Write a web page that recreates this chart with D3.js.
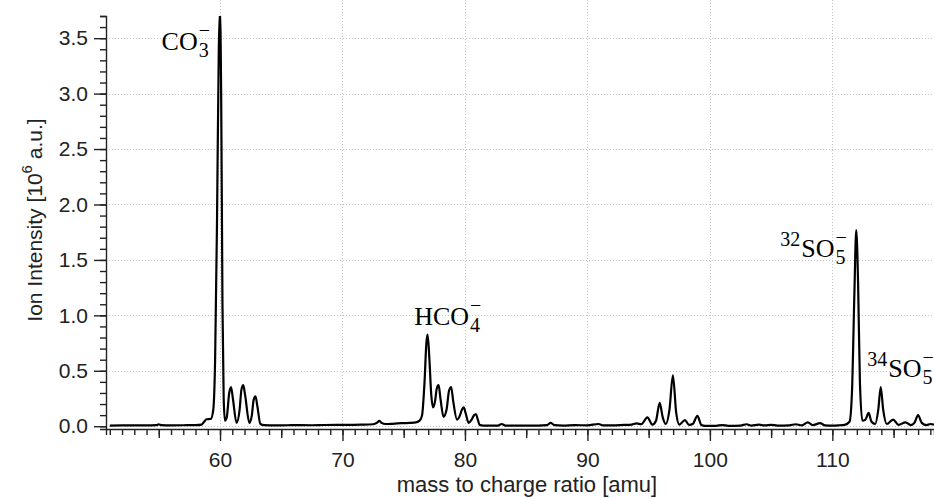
<!DOCTYPE html>
<html>
<head>
<meta charset="utf-8">
<script src="https://cdn.jsdelivr.net/npm/d3@7"></script>
<style>
body { margin: 0; background: #fff; }
svg { display: block; }
.tick text { font-family: "Liberation Sans", Arial, sans-serif; font-size: 21px; fill: #222; }
</style>
</head>
<body>
<script>
var W = 934, H = 498;

// spectrum: m/z [amu] and ion intensity [10^6 a.u.]
var massValues = [
  51.0, 52.0, 53.0, 54.0, 54.8, 55.0, 55.2, 56.0, 57.0, 58.0, 58.5, 58.7, 58.9, 59.25, 59.45,
  59.6, 59.75, 59.9, 60.0, 60.1, 60.2, 60.3, 60.4, 60.55, 60.75, 60.9, 61.05, 61.35, 61.6, 61.75,
  61.9, 62.05, 62.4, 62.6, 62.75, 62.9, 63.05, 63.3, 63.6, 64.5, 65.5, 66.5, 67.5, 68.5, 69.5,
  70.5, 71.5, 72.5, 72.8, 73.0, 73.2, 73.5, 74.0, 74.5, 75.0, 75.5, 76.0, 76.3, 76.5, 76.7,
  76.85, 76.95, 77.1, 77.25, 77.4, 77.55, 77.7, 77.85, 78.0, 78.25, 78.5, 78.7, 78.87, 79.05, 79.35,
  79.6, 79.75, 79.9, 80.05, 80.3, 80.55, 80.75, 80.9, 81.05, 81.2, 81.5, 82.0, 82.7, 83.0, 83.3,
  84.0, 85.0, 86.0, 86.7, 87.0, 87.3, 88.0, 89.0, 90.0, 90.9, 91.3, 92.0, 93.0, 93.6, 94.0,
  94.4, 94.9, 95.3, 95.6, 95.9, 96.15, 96.4, 96.7, 96.98, 97.25, 97.5, 97.96, 98.3, 98.6, 98.98,
  99.3, 99.6, 100.5, 101.0, 101.5, 102.5, 103.0, 103.4, 104.0, 104.5, 105.0, 105.5, 106.5, 107.0, 107.5,
  108.0, 108.4, 109.0, 109.4, 110.0, 110.5, 111.0, 111.4, 111.6, 111.8, 111.95, 112.1, 112.25, 112.45, 112.7,
  112.96, 113.2, 113.5, 113.75, 113.95, 114.15, 114.45, 114.96, 115.4, 115.97, 116.4, 116.7, 117.0, 117.3, 117.7,
  118.0, 118.5
];
var intensityValues = [
  0.006, 0.007, 0.008, 0.008, 0.010, 0.018, 0.010, 0.008, 0.009, 0.010, 0.015, 0.040, 0.063, 0.066, 0.15,
  0.6, 1.8, 3.4, 3.75, 2.9, 1.1, 0.25, 0.05, 0.08, 0.30, 0.354, 0.25, 0.03, 0.15, 0.33,
  0.37, 0.28, 0.03, 0.10, 0.24, 0.27, 0.18, 0.02, 0.01, 0.008, 0.009, 0.010, 0.009, 0.011, 0.012,
  0.012, 0.014, 0.018, 0.030, 0.048, 0.030, 0.020, 0.022, 0.026, 0.028, 0.030, 0.035, 0.05, 0.10, 0.40,
  0.75, 0.826, 0.60, 0.28, 0.17, 0.22, 0.34, 0.37, 0.25, 0.085, 0.15, 0.32, 0.354, 0.22, 0.06,
  0.10, 0.15, 0.17, 0.12, 0.03, 0.06, 0.10, 0.108, 0.06, 0.012, 0.006, 0.005, 0.006, 0.020, 0.006,
  0.005, 0.006, 0.006, 0.010, 0.030, 0.010, 0.006, 0.010, 0.008, 0.020, 0.008, 0.007, 0.012, 0.015, 0.025,
  0.018, 0.08, 0.015, 0.05, 0.21, 0.08, 0.02, 0.15, 0.46, 0.12, 0.015, 0.055, 0.012, 0.02, 0.093,
  0.012, 0.004, 0.004, 0.010, 0.004, 0.006, 0.018, 0.006, 0.014, 0.007, 0.013, 0.006, 0.008, 0.018, 0.008,
  0.035, 0.010, 0.028, 0.008, 0.006, 0.008, 0.012, 0.04, 0.3, 1.2, 1.77, 1.3, 0.4, 0.05, 0.06,
  0.12, 0.04, 0.02, 0.15, 0.354, 0.15, 0.02, 0.06, 0.012, 0.035, 0.01, 0.03, 0.10, 0.03, 0.01,
  0.02, 0.01
];

var xMajor = [60, 70, 80, 90, 100, 110];
var yMajor = [0.0, 0.5, 1.0, 1.5, 2.0, 2.5, 3.0, 3.5];

// peak labels: isotope prefix, formula, subscript, charge
var labelPre = ["", "", "32", "34"];
var labelMain = ["CO", "HCO", "SO", "SO"];
var labelSub = ["3", "4", "5", "5"];
var labelPeak = [60, 77, 112, 114];

var plotLeft = 106, plotRight = W, plotTop = 16, plotBottom = 429;

var svg = d3.select("body").append("svg")
  .attr("width", W)
  .attr("height", H);

var x = d3.scaleLinear().domain([50.69, 118.3]).range([plotLeft, plotRight]);
var y = d3.scaleLinear().domain([-0.025, 3.7]).range([plotBottom, plotTop]);

// dotted grid
svg.append("g").selectAll("line.vg")
  .data(xMajor)
  .enter().append("line")
  .attr("x1", function(d) { return Math.round(x(d)) + 0.5; })
  .attr("x2", function(d) { return Math.round(x(d)) + 0.5; })
  .attr("y1", 0)
  .attr("y2", plotBottom)
  .style("stroke", "#c4c4c4")
  .style("stroke-dasharray", "1,2");

svg.append("g").selectAll("line.hg")
  .data(yMajor)
  .enter().append("line")
  .attr("x1", plotLeft)
  .attr("x2", plotRight)
  .attr("y1", function(d) { return Math.round(y(d)) + 0.5; })
  .attr("y2", function(d) { return Math.round(y(d)) + 0.5; })
  .style("stroke", "#c4c4c4")
  .style("stroke-dasharray", "1,2");

// spectrum
svg.append("clipPath").attr("id", "clip")
  .append("rect")
  .attr("x", plotLeft).attr("y", plotTop)
  .attr("width", plotRight - plotLeft).attr("height", plotBottom - plotTop);

var points = massValues.map(function(m, i) { return [m, intensityValues[i]]; });
var line = d3.line()
  .x(function(d) { return x(d[0]); })
  .y(function(d) { return y(d[1]); })
  .curve(d3.curveMonotoneX);

svg.append("path")
  .datum(points)
  .attr("clip-path", "url(#clip)")
  .attr("d", line)
  .style("fill", "none")
  .style("stroke", "#000")
  .style("stroke-width", 2.2)
  .style("stroke-linejoin", "round");

// axes
function styleAxis(g) {
  g.selectAll("path.domain").style("stroke", "#222").style("stroke-width", 1.4);
  g.selectAll(".tick line").style("stroke", "#222").style("stroke-width", 1.4);
}

var xMinor = d3.range(51, 119);
var xMid = [55, 65, 75, 85, 95, 105, 115];

svg.append("g")
  .attr("transform", "translate(0," + plotBottom + ")")
  .call(d3.axisBottom(x).tickValues(xMinor).tickSize(6).tickFormat(""))
  .call(styleAxis);
svg.append("g")
  .attr("transform", "translate(0," + plotBottom + ")")
  .call(d3.axisBottom(x).tickValues(xMid).tickSize(9).tickFormat(""))
  .call(styleAxis)
  .select("path.domain").remove();
svg.append("g")
  .attr("transform", "translate(0," + plotBottom + ")")
  .call(d3.axisBottom(x).tickValues(xMajor).tickSize(12).tickPadding(11).tickFormat(d3.format("d")))
  .call(styleAxis)
  .select("path.domain").remove();

var yMinor = d3.range(0, 38).map(function(i) { return i / 10; });
svg.append("g")
  .attr("transform", "translate(" + plotLeft + ",0)")
  .call(d3.axisLeft(y).tickValues(yMinor).tickSize(6).tickFormat(""))
  .call(styleAxis);
svg.append("g")
  .attr("transform", "translate(" + plotLeft + ",0)")
  .call(d3.axisLeft(y).tickValues(yMajor).tickSize(12).tickPadding(6).tickFormat(d3.format(".1f")))
  .call(styleAxis)
  .select("path.domain").remove();

// axis titles
svg.append("text")
  .attr("x", 527)
  .attr("y", 492)
  .attr("text-anchor", "middle")
  .style("font-family", "'Liberation Sans', Arial, sans-serif")
  .style("font-size", "22px")
  .style("fill", "#222")
  .text("mass to charge ratio [amu]");

var yt = svg.append("text")
  .attr("transform", "translate(42,220) rotate(-90)")
  .attr("text-anchor", "middle")
  .style("font-family", "'Liberation Sans', Arial, sans-serif")
  .style("font-size", "21px")
  .style("fill", "#222");
yt.append("tspan").text("Ion Intensity [10");
yt.append("tspan").attr("dy", -10).style("font-size", "15px").text("6");
yt.append("tspan").attr("dy", 10).text(" a.u.]");

// peak labels
var serif = "'Liberation Serif', 'DejaVu Serif', serif";
function peakLabel(i) {
  var g = svg.append("g");
  var cx = 0;
  if (labelPre[i]) {
    var p = g.append("text").attr("x", 0).attr("y", -11)
      .style("font-family", serif).style("font-size", "20px").text(labelPre[i]);
    cx += p.node().getComputedTextLength() + 1;
  }
  var m = g.append("text").attr("x", cx).attr("y", 0)
    .style("font-family", serif).style("font-size", "26px").text(labelMain[i]);
  cx += m.node().getComputedTextLength() + 1;
  var s = g.append("text").attr("x", cx).attr("y", 7)
    .style("font-family", serif).style("font-size", "20px").text(labelSub[i]);
  var c = g.append("text").attr("x", cx).attr("y", -13)
    .style("font-family", serif).style("font-size", "20px").text("\u2212");
  var w = cx + Math.max(s.node().getComputedTextLength(), c.node().getComputedTextLength());
  return { g: g, w: w };
}

var px = labelPeak.map(function(m) { return x(m); });
var lab;
lab = peakLabel(0);
lab.g.attr("transform", "translate(" + (px[0] - 10 - lab.w) + "," + 50 + ")");
lab = peakLabel(1);
lab.g.attr("transform", "translate(" + (px[1] - 14) + "," + (y(0.826) - 10) + ")");
lab = peakLabel(2);
lab.g.attr("transform", "translate(" + (px[2] - 10 - lab.w) + "," + (y(1.77) + 27) + ")");
lab = peakLabel(3);
lab.g.attr("transform", "translate(" + (px[3] - 14) + "," + (y(0.354) - 10) + ")");
</script>
</body>
</html>
